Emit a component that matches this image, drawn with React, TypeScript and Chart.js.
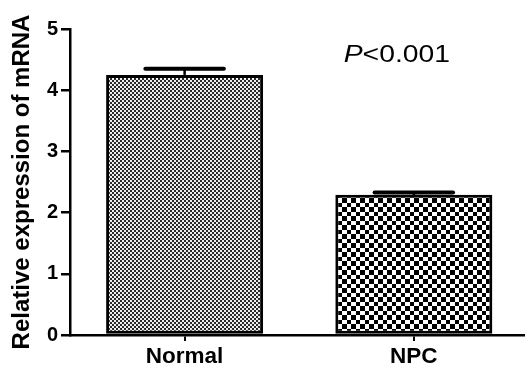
import React, { useEffect, useRef } from "react";
import { Chart, registerables } from "chart.js";

Chart.register(...registerables);

const categories: string[] = ["Normal", "NPC"];
const means: number[] = [4.25, 2.29];
const errors: number[] = [0.1, 0.04];
const yTicks: number[] = [0, 1, 2, 3, 4, 5];
const yTitle = "Relative expression of mRNA";
const pItalic = "P";
const pRest = "<0.001";

const FONT = "'Liberation Sans', Arial, Helvetica, sans-serif";

function makeFinePattern(): CanvasPattern | string {
  const c = document.createElement("canvas");
  c.width = 4;
  c.height = 4;
  const g = c.getContext("2d");
  if (!g) return "#888";
  g.fillStyle = "#eeeeee";
  g.fillRect(0, 0, 4, 4);
  g.fillStyle = "#2a2a2a";
  g.fillRect(0, 0, 2, 2);
  g.fillRect(2, 2, 2, 2);
  return g.createPattern(c, "repeat") || "#888";
}

function makeCoarsePattern(): CanvasPattern | string {
  const c = document.createElement("canvas");
  c.width = 9;
  c.height = 9;
  const g = c.getContext("2d");
  if (!g) return "#888";
  g.fillStyle = "#ffffff";
  g.fillRect(0, 0, 9, 9);
  g.fillStyle = "#000000";
  g.fillRect(0, 0, 5, 5);
  g.fillRect(5, 5, 4, 4);
  return g.createPattern(c, "repeat") || "#888";
}

const errorBarPlugin = {
  id: "errorBars",
  afterDatasetsDraw(chart: any) {
    const meta = chart.getDatasetMeta(0);
    const yScale = chart.scales.y;
    const ctx = chart.ctx;
    ctx.save();
    ctx.strokeStyle = "#000";
    meta.data.forEach((el: any, i: number) => {
      const x = el.x;
      const yTop = yScale.getPixelForValue(means[i]);
      const yCap = yScale.getPixelForValue(means[i] + errors[i]);
      const half = el.width * 0.25;
      ctx.lineWidth = 2.5;
      ctx.beginPath();
      ctx.moveTo(x, yTop);
      ctx.lineTo(x, yCap);
      ctx.stroke();
      ctx.lineWidth = 4;
      ctx.lineCap = "round";
      ctx.beginPath();
      ctx.moveTo(x - half, yCap);
      ctx.lineTo(x + half, yCap);
      ctx.stroke();
    });
    ctx.restore();
  },
};

const annotationPlugin = {
  id: "pAnnotation",
  afterDraw(chart: any) {
    const xs = chart.scales.x;
    const ys = chart.scales.y;
    const ctx = chart.ctx;
    const cx = xs.getPixelForValue(0.926);
    const by = ys.getPixelForValue(4.46);
    ctx.save();
    ctx.fillStyle = "#000";
    ctx.textBaseline = "alphabetic";
    ctx.textAlign = "left";
    const sx = 1.18;
    ctx.font = `italic 24px ${FONT}`;
    const w1 = ctx.measureText(pItalic).width;
    ctx.font = `24px ${FONT}`;
    const w2 = ctx.measureText(pRest).width;
    const total = (w1 + w2) * sx;
    ctx.translate(cx - total / 2, by);
    ctx.scale(sx, 1);
    ctx.font = `italic 24px ${FONT}`;
    ctx.fillText(pItalic, 0, 0);
    ctx.font = `24px ${FONT}`;
    ctx.fillText(pRest, w1, 0);
    ctx.restore();
  },
};

export default function App() {
  const ref = useRef<HTMLCanvasElement | null>(null);

  useEffect(() => {
    const canvas = ref.current;
    if (!canvas) return;
    const chart = new Chart(canvas, {
      type: "bar",
      data: {
        datasets: [
          {
            data: categories.map((c, i) => ({ x: i, y: means[i] })) as any,
            backgroundColor: [makeFinePattern(), makeCoarsePattern()] as any,
            borderColor: "#000",
            borderWidth: 3,
            borderSkipped: false,
            barPercentage: 0.685,
            categoryPercentage: 1,
          },
        ],
      },
      options: {
        animation: false,
        responsive: false,
        devicePixelRatio: 1,
        layout: { padding: { left: 0, right: 0, top: 29, bottom: 0 } },
        plugins: {
          legend: { display: false },
          tooltip: { enabled: false },
        },
        scales: {
          x: {
            type: "linear",
            offset: false,
            min: -0.5,
            max: 1.485,
            afterBuildTicks: (s: any) => {
              s.ticks = categories.map((_, i) => ({ value: i }));
            },
            afterFit: (s: any) => {
              s.height = 37;
            },
            ticks: {
              autoSkip: false,
              maxRotation: 0,
              padding: 2,
              color: "#000",
              font: { family: FONT, size: 22.5, weight: "bold" },
              callback: (v: any) => categories[v] ?? "",
            },
            grid: {
              display: true,
              offset: false,
              drawOnChartArea: false,
              drawTicks: true,
              tickLength: 6,
              lineWidth: 2,
              color: "#000",
            },
            border: { display: true, color: "#000", width: 2.5 },
          },
          y: {
            type: "linear",
            min: yTicks[0],
            max: yTicks[yTicks.length - 1],
            afterBuildTicks: (s: any) => {
              s.ticks = yTicks.map((v) => ({ value: v }));
            },
            afterFit: (s: any) => {
              s.width = 70;
            },
            ticks: {
              padding: 3,
              color: "#000",
              font: { family: FONT, size: 20, weight: "bold" },
            },
            grid: {
              display: true,
              drawOnChartArea: false,
              drawTicks: true,
              tickLength: 9,
              lineWidth: 2.5,
              color: "#000",
            },
            border: { display: true, color: "#000", width: 2.5 },
            title: {
              display: true,
              text: yTitle,
              color: "#000",
              font: { family: FONT, size: 24, weight: "bold" },
              padding: { top: 8, bottom: 0 },
            },
          },
        },
      },
      plugins: [errorBarPlugin, annotationPlugin],
    });
    return () => chart.destroy();
  }, []);

  return (
    <div style={{ position: "absolute", left: 0, top: 0, width: 525, height: 372, background: "#fff" }}>
      <canvas ref={ref} width={525} height={372} />
    </div>
  );
}
